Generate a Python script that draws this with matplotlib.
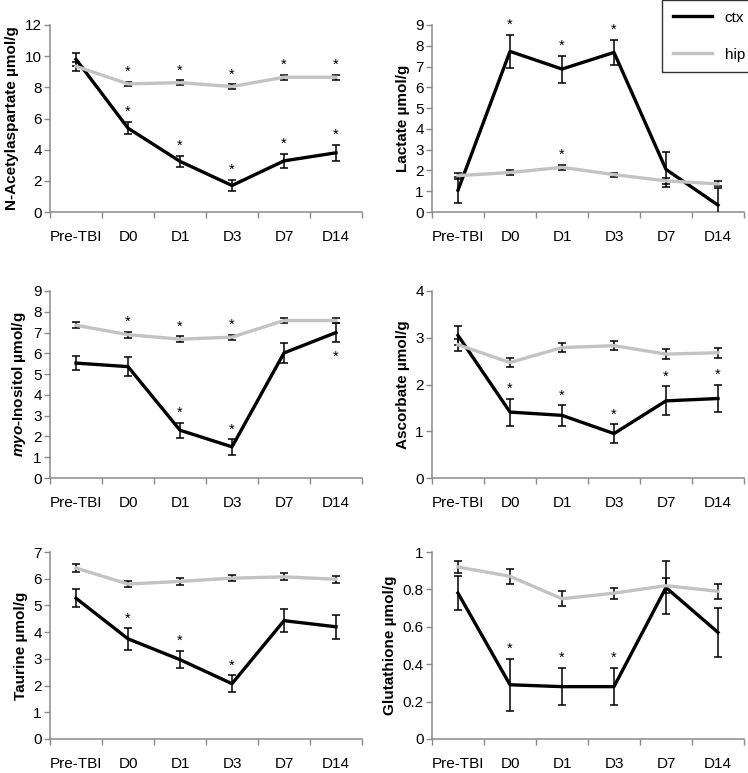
import matplotlib
matplotlib.use("Agg")
import matplotlib.pyplot as plt
from matplotlib.ticker import FixedLocator, MultipleLocator
from matplotlib.lines import Line2D

plt.rcParams['font.family'] = ['Liberation Sans', 'DejaVu Sans']
plt.rcParams['mathtext.fontset'] = 'custom'
plt.rcParams['mathtext.it'] = 'Liberation Sans:italic:bold'
plt.rcParams['mathtext.bf'] = 'Liberation Sans:bold'
plt.rcParams['mathtext.rm'] = 'Liberation Sans:bold'

categories = ["Pre-TBI", "D0", "D1", "D3", "D7", "D14"]

# N-Acetylaspartate
naa_ctx = [9.8, 5.38, 3.25, 1.7, 3.28, 3.8]
naa_ctx_err = [0.42, 0.4, 0.37, 0.36, 0.44, 0.5]
naa_hip = [9.35, 8.22, 8.3, 8.05, 8.65, 8.65]
naa_hip_err = [0.27, 0.15, 0.15, 0.15, 0.15, 0.15]
naa_ctx_sig = [0, 1, 1, 1, 1, 1]
naa_hip_sig = [0, 1, 1, 1, 1, 1]

# Lactate
lac_ctx = [1.05, 7.73, 6.88, 7.68, 2.05, 0.33]
lac_ctx_err = [0.62, 0.8, 0.65, 0.6, 0.85, 0.82]
lac_hip = [1.75, 1.9, 2.15, 1.8, 1.5, 1.35]
lac_hip_err = [0.15, 0.1, 0.12, 0.1, 0.15, 0.12]
lac_ctx_sig = [0, 1, 1, 1, 0, 0]
lac_hip_sig = [0, 0, 1, 0, 0, 0]

# myo-Inositol
ino_ctx = [5.53, 5.36, 2.3, 1.5, 6.02, 7.0]
ino_ctx_err = [0.35, 0.47, 0.37, 0.37, 0.48, 0.45]
ino_hip = [7.35, 6.9, 6.68, 6.78, 7.58, 7.58]
ino_hip_err = [0.15, 0.15, 0.14, 0.12, 0.13, 0.13]
ino_ctx_sig = [0, 0, 1, 1, 0, -1]
ino_hip_sig = [0, 1, 1, 1, 0, 0]

# Ascorbate
asc_ctx = [3.05, 1.41, 1.34, 0.95, 1.65, 1.7]
asc_ctx_err = [0.2, 0.29, 0.22, 0.2, 0.31, 0.29]
asc_hip = [2.85, 2.47, 2.79, 2.83, 2.65, 2.68]
asc_hip_err = [0.13, 0.09, 0.1, 0.1, 0.1, 0.11]
asc_ctx_sig = [0, 1, 1, 1, 1, 1]
asc_hip_sig = [0, 0, 0, 0, 0, 0]

# Taurine
tau_ctx = [5.27, 3.75, 2.97, 2.07, 4.43, 4.2]
tau_ctx_err = [0.34, 0.4, 0.33, 0.32, 0.42, 0.44]
tau_hip = [6.4, 5.8, 5.9, 6.02, 6.07, 5.98]
tau_hip_err = [0.14, 0.11, 0.12, 0.12, 0.13, 0.14]
tau_ctx_sig = [0, 1, 1, 1, 0, 0]
tau_hip_sig = [0, 0, 0, 0, 0, 0]

# Glutathione
glu_ctx = [0.78, 0.29, 0.28, 0.28, 0.81, 0.57]
glu_ctx_err = [0.09, 0.14, 0.1, 0.1, 0.14, 0.13]
glu_hip = [0.92, 0.87, 0.75, 0.78, 0.82, 0.79]
glu_hip_err = [0.03, 0.04, 0.04, 0.03, 0.04, 0.04]
glu_ctx_sig = [0, 1, 1, 1, 0, 0]
glu_hip_sig = [0, 0, 0, 0, 0, 0]

panels = [
    (r"N-Acetylaspartate µmol/g", naa_ctx, naa_ctx_err, naa_hip, naa_hip_err, naa_ctx_sig, naa_hip_sig, 12, 2, True),
    (r"Lactate µmol/g", lac_ctx, lac_ctx_err, lac_hip, lac_hip_err, lac_ctx_sig, lac_hip_sig, 9, 1, True),
    (r"$\it{myo}$-Inositol µmol/g", ino_ctx, ino_ctx_err, ino_hip, ino_hip_err, ino_ctx_sig, ino_hip_sig, 9, 1, True),
    (r"Ascorbate µmol/g", asc_ctx, asc_ctx_err, asc_hip, asc_hip_err, asc_ctx_sig, asc_hip_sig, 4, 1, True),
    (r"Taurine µmol/g", tau_ctx, tau_ctx_err, tau_hip, tau_hip_err, tau_ctx_sig, tau_hip_sig, 7, 1, True),
    (r"Glutathione µmol/g", glu_ctx, glu_ctx_err, glu_hip, glu_hip_err, glu_ctx_sig, glu_hip_sig, 1, 0.2, False),
]

W, H = 748, 773
fig = plt.figure(figsize=(W / 100, H / 100), dpi=100)

lefts = [50, 432]
tops = [25, 291, 552]
aw, ah = 312, 187

spine_col = "#8a8a8a"
ctx_col = "black"
hip_col = "#c3c3c3"

x = list(range(len(categories)))

for i, (label, c, ce, h, he, cs, hs, ymax, step, integer) in enumerate(panels):
    r, col = divmod(i, 2)
    left = lefts[col]
    top = tops[r]
    ax = fig.add_axes([left / W, 1 - (top + ah) / H, aw / W, ah / H])
    ax.errorbar(x, c, yerr=ce, color=ctx_col, lw=2.4, ecolor="black",
                elinewidth=1.1, capsize=3.2, capthick=1.1, zorder=3)
    ax.errorbar(x, h, yerr=he, color=hip_col, lw=2.4, ecolor="black",
                elinewidth=1.1, capsize=3.2, capthick=1.1, zorder=4)
    for series, err, sig in ((c, ce, cs), (h, he, hs)):
        for xi, (v, e, s) in enumerate(zip(series, err, sig)):
            if s == 1:
                ax.annotate("*", (xi, v + e), xytext=(0, 2), textcoords="offset points",
                            ha="center", va="bottom", fontsize=10.5, zorder=6)
            elif s == -1:
                ax.annotate("*", (xi, v - e), xytext=(0, -6), textcoords="offset points",
                            ha="center", va="top", fontsize=10.5, zorder=6)
    ax.set_xlim(-0.5, len(categories) - 0.5)
    ax.set_ylim(0, ymax)
    ticks = [k * step for k in range(int(round(ymax / step)) + 1)]
    ax.set_yticks(ticks)
    if integer:
        ax.set_yticklabels(["{:.0f}".format(t) for t in ticks])
    else:
        ax.set_yticklabels(["{:g}".format(round(t, 1)) for t in ticks])
    ax.set_xticks(x)
    ax.set_xticklabels(categories)
    ax.xaxis.set_minor_locator(FixedLocator([k - 0.5 for k in range(len(categories) + 1)]))
    ax.tick_params(axis="x", which="major", length=0, pad=13, labelsize=11)
    ax.tick_params(axis="x", which="minor", length=4, width=1, color=spine_col, direction="out")
    ax.tick_params(axis="y", length=4, width=1, color=spine_col, pad=2, labelsize=11)
    for sp in ("top", "right"):
        ax.spines[sp].set_visible(False)
    for sp in ("left", "bottom"):
        ax.spines[sp].set_color(spine_col)
        ax.spines[sp].set_linewidth(1.1)
    ax.set_ylabel(label, fontsize=11, fontweight="bold", labelpad=4)

handles = [Line2D([], [], color=ctx_col, lw=2.4), Line2D([], [], color=hip_col, lw=2.4)]
leg = fig.legend(handles, ["ctx", "hip"], loc="upper left", bbox_to_anchor=(662 / W, 1.0),
                 frameon=True, fancybox=False, edgecolor="black", fontsize=11,
                 handlelength=2.6, labelspacing=1.5, borderpad=0.7, borderaxespad=0)
leg.get_frame().set_linewidth(1.0)

fig.savefig("out.png", dpi=100)
